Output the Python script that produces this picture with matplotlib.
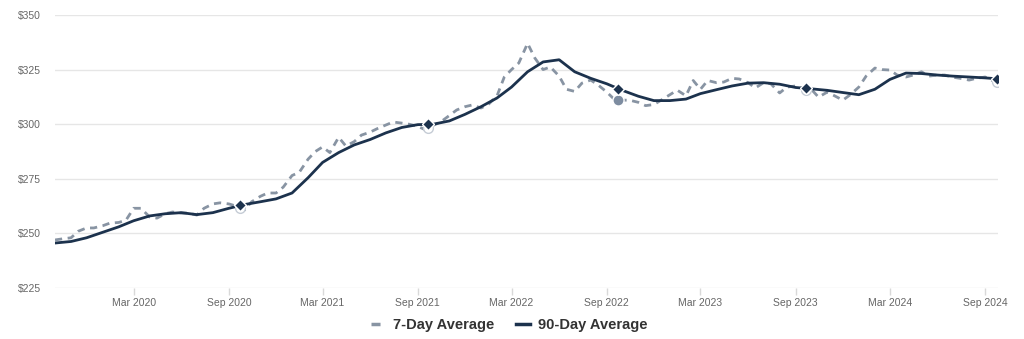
import matplotlib
matplotlib.use("Agg")
import matplotlib.pyplot as plt
import matplotlib.dates as mdates
from matplotlib.lines import Line2D
import numpy as np
import pandas as pd

# 90-day average, first of each month Oct 2019 .. Sep 2024, plus last day
ninety_day = [
    245.6, 246.3, 248.0, 250.5, 253.0, 255.8,
    258.0, 259.0, 259.5, 258.6, 259.5, 261.5,
    263.2, 264.5, 265.8, 268.5, 275.5, 282.5,
    287.0, 290.5, 293.0, 296.0, 298.5, 299.8,
    300.0, 301.5, 304.5, 308.0, 312.0, 317.0,
    324.0, 328.5, 329.5, 324.0, 321.0, 318.5,
    315.5, 312.8, 310.8, 310.8, 311.5, 314.0,
    315.8, 317.5, 318.8, 319.0, 318.3, 316.8,
    316.2, 315.5, 314.5, 313.5, 316.0, 320.5,
    323.4, 323.2, 322.5, 322.0, 321.6, 321.2,
]
# 7-day average, 1st and 15th of each month Oct 2019 .. Sep 2024
seven_day = [
    247.0, 247.5, 248.0, 251.0, 252.5, 252.5, 253.5, 254.7, 255.0, 256.0, 261.5, 261.5,
    257.5, 257.0, 259.0, 259.8, 259.3, 259.3, 258.4, 261.5, 263.5, 264.0, 263.5, 262.5,
    260.7, 264.5, 267.0, 268.5, 268.5, 271.2, 276.5, 278.0, 284.0, 287.5, 289.6, 287.0,
    294.0, 290.0, 292.0, 295.0, 296.4, 298.0, 299.6, 301.0, 300.5, 300.0, 299.0, 297.5,
    299.5, 301.0, 304.0, 306.5, 308.0, 308.8, 307.4, 309.0, 313.0, 321.6, 325.0, 328.0,
    337.0, 330.3, 325.0, 326.2, 322.0, 316.0, 315.0, 318.8, 320.2, 318.0, 314.7, 311.5,
    311.0, 311.0, 310.0, 308.5, 309.0, 311.0, 313.5, 315.6, 313.0, 320.0, 316.0, 320.0,
    319.0, 319.3, 321.0, 320.7, 319.0, 316.6, 319.0, 318.5, 314.3, 317.0, 317.5, 316.6,
    316.0, 312.4, 314.7, 313.0, 311.0, 313.4, 317.0, 322.0, 325.7, 325.0, 324.8, 322.5,
    321.6, 322.5, 324.0, 322.0, 322.5, 322.5, 321.5, 321.0, 320.2, 321.0, 321.6, 320.0,
]
last_date = "2024-09-24"
ninety_last = 320.8
seven_last = 319.3

# yearly highlighted points
mark_dates = ["2020-09-22", "2021-09-20", "2022-09-22", "2023-09-20", "2024-09-24"]
mark_ninety = [263.0, 300.0, 316.3, 316.5, 320.8]
mark_seven = [261.6, 298.3, 311.0, 315.8, 319.3]

yticks = [225, 250, 275, 300, 325, 350]
xtick_dates = ["2020-03-01", "2020-09-01", "2021-03-01", "2021-09-01", "2022-03-01",
               "2022-09-01", "2023-03-01", "2023-09-01", "2024-03-01", "2024-09-01"]

navy = "#1c324d"
grey = "#8894a3"

plt.rcParams["font.family"] = ["Liberation Sans", "DejaVu Sans"]

d90 = list(pd.date_range("2019-10-01", periods=len(ninety_day), freq="MS")) + [pd.Timestamp(last_date)]
v90 = ninety_day + [ninety_last]
d7 = list(pd.date_range("2019-10-01", periods=len(seven_day), freq="SMS")) + [pd.Timestamp(last_date)]
v7 = seven_day + [seven_last]
md = pd.to_datetime(mark_dates)

fig = plt.figure(figsize=(10.24, 3.39), dpi=100)
ax = fig.add_axes([0.0537, 0.1504, 0.921, 0.8054])

ax.plot(d7, v7, color=grey, lw=2, dashes=(2.6, 2), zorder=3)
ax.plot(d90, v90, color=navy, lw=2, zorder=4)

for i, (d, v) in enumerate(zip(md, mark_seven)):
    if i == 2:
        ax.plot(d, v, "o", ms=8, color="#7d8ca0", mec="white", mew=1, zorder=5)
    else:
        ax.plot(d, v, "o", ms=7, mfc="white", mec="#c5ccd5", mew=1, zorder=5)
ax.plot(md, mark_ninety, "D", ms=6, color=navy, mec="white", mew=1, ls="none", zorder=6)

ax.set_ylim(225, 350)
ax.set_xlim(pd.Timestamp("2019-10-01"), pd.Timestamp(last_date) + pd.Timedelta(days=2))
ax.set_yticks(yticks)
ax.set_yticklabels([f"${t}" for t in yticks])
ax.set_xticks(pd.to_datetime(xtick_dates))
ax.xaxis.set_major_formatter(mdates.DateFormatter("%b %Y"))

ax.grid(axis="y", color="#e6e6e6", lw=1)
ax.set_axisbelow(True)
for s in ax.spines.values():
    s.set_visible(False)
ax.tick_params(axis="y", length=0, pad=10, labelsize=7.5, labelcolor="#666666")
ax.tick_params(axis="x", length=5, width=1, color="#d9d9d9", pad=2,
               labelsize=7.5, labelcolor="#666666")

handles = [
    Line2D([], [], color=grey, lw=2.5, dashes=(2.6, 2)),
    Line2D([], [], color=navy, lw=2.5),
]
fig.legend(handles, ["7-Day Average", "90-Day Average"], loc="center",
           bbox_to_anchor=(0.497, 0.04), ncol=2, frameon=False,
           handlelength=1.0, handletextpad=0.5, columnspacing=1.5,
           prop={"weight": "bold", "size": 10.5}, labelcolor="#333333")

fig.savefig("out.png", dpi=100)
